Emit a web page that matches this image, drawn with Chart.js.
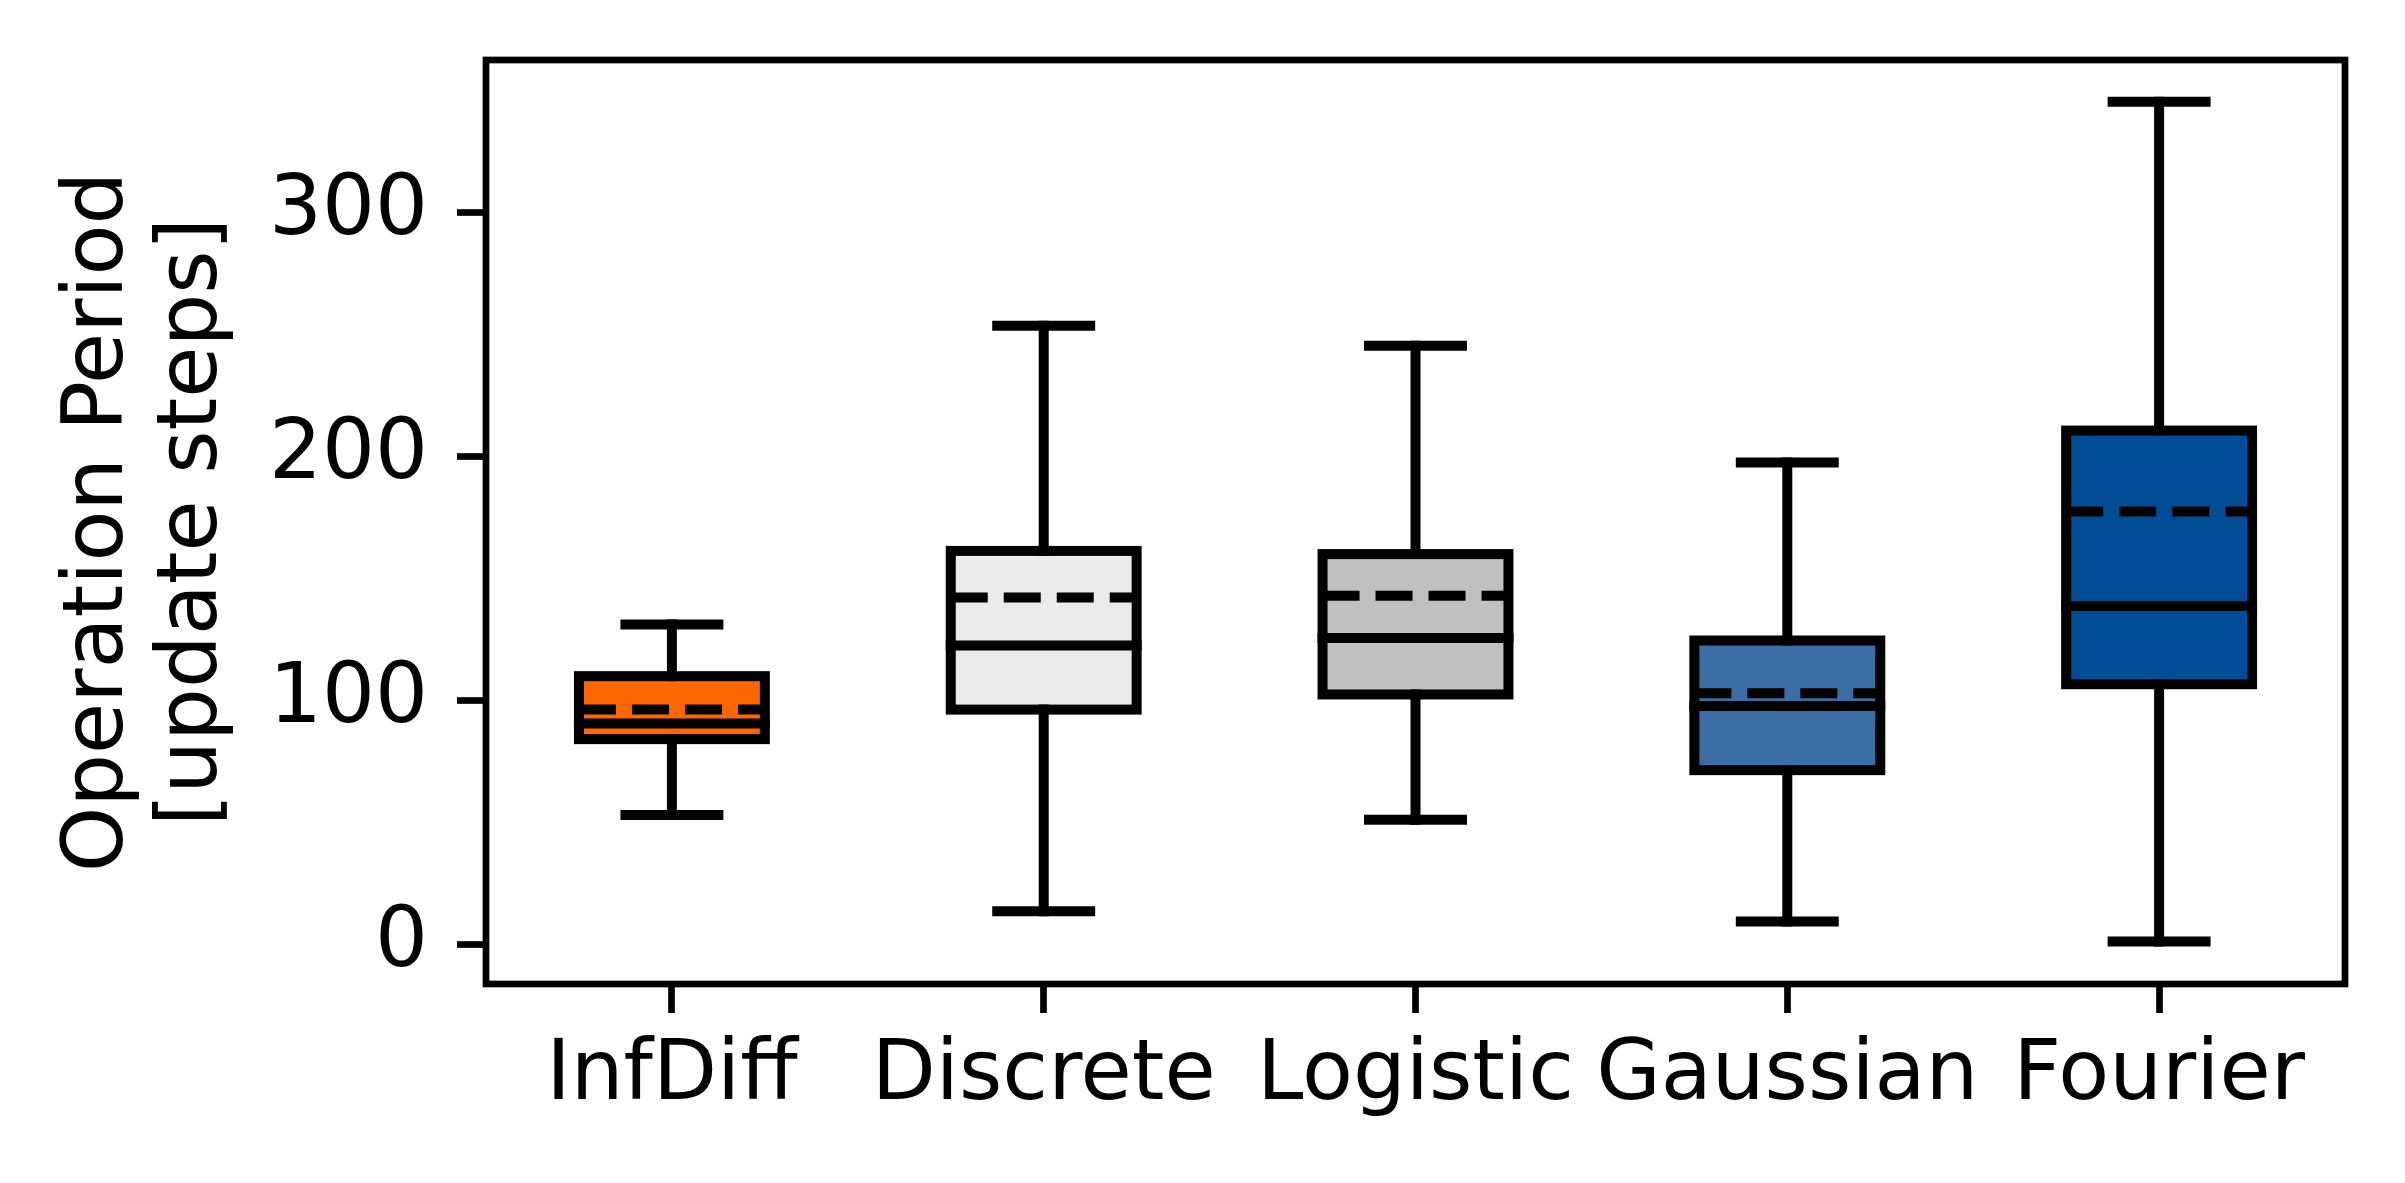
<!DOCTYPE html>
<html><head><meta charset="utf-8">
<script src="https://cdn.jsdelivr.net/npm/chart.js@4.4.1/dist/chart.umd.min.js"></script>
<style>html,body{margin:0;padding:0;background:#fff;} #wrap{width:2405px;height:1183px;position:relative;}</style>
</head><body><div id="wrap"><canvas id="c"></canvas></div>
<script>
// ---- data ----
const categories = ['InfDiff', 'Discrete', 'Logistic', 'Gaussian', 'Fourier'];
const whiskerLow = [53.0, 13.6, 51.1, 9.4, 1.2];
const q1 = [84.1, 96.2, 102.4, 71.4, 106.6];
const median = [90.5, 122.5, 125.5, 97.7, 138.6];
const mean = [96.2, 142.1, 142.8, 102.9, 177.3];
const q3 = [109.9, 161.2, 159.9, 124.5, 210.5];
const whiskerHigh = [131.1, 253.4, 245.2, 197.4, 345.2];
const yTicks = [0, 100, 200, 300];
const yTitle = ['Operation Period', '[update steps]'];

// ---- styles ----
const boxColors = ['#FF6600', '#EBEBEB', '#C0C0C0', '#3B6EA5', '#004C97'];
const LW = 10, SPINE = 6.7, FONT = 83.3;

Chart.defaults.font.family = "'DejaVu Sans', sans-serif";
Chart.defaults.font.size = FONT;
Chart.defaults.color = '#000';

function seg(ctx, x1, y1, x2, y2) { ctx.beginPath(); ctx.moveTo(x1, y1); ctx.lineTo(x2, y2); ctx.stroke(); }

const boxPlot = {
  id: 'boxPlot',
  afterDatasetsDraw(chart) {
    const ctx = chart.ctx, y = chart.scales.y, meta = chart.getDatasetMeta(0);
    ctx.save();
    ctx.strokeStyle = '#000';
    ctx.lineWidth = LW;
    meta.data.forEach((bar, i) => {
      const cx = bar.x, hw = bar.width / 2, cw = bar.width / 4;
      const yq1 = y.getPixelForValue(q1[i]), yq3 = y.getPixelForValue(q3[i]);
      const ylo = y.getPixelForValue(whiskerLow[i]), yhi = y.getPixelForValue(whiskerHigh[i]);
      // box outline
      ctx.setLineDash([]); ctx.lineJoin = 'miter'; ctx.lineCap = 'butt';
      ctx.strokeRect(cx - hw, yq3, 2 * hw, yq1 - yq3);
      // whiskers and caps
      ctx.lineCap = 'square';
      seg(ctx, cx, yq1, cx, ylo);
      seg(ctx, cx, yq3, cx, yhi);
      seg(ctx, cx - cw, ylo, cx + cw, ylo);
      seg(ctx, cx - cw, yhi, cx + cw, yhi);
      // median
      const ym = y.getPixelForValue(median[i]);
      seg(ctx, cx - hw, ym, cx + hw, ym);
      // mean (dashed)
      ctx.lineCap = 'butt';
      ctx.setLineDash([3.7 * LW, 1.6 * LW]);
      ctx.lineDashOffset = 0;
      const ya = y.getPixelForValue(mean[i]);
      seg(ctx, cx - hw, ya, cx + hw, ya);
    });
    ctx.restore();
  },
  afterDraw(chart) {
    const {ctx, chartArea: a} = chart;
    ctx.save();
    ctx.strokeStyle = '#000';
    ctx.lineWidth = SPINE;
    ctx.lineJoin = 'miter';
    ctx.strokeRect(a.left, a.top, a.right - a.left, a.bottom - a.top);
    ctx.restore();
  }
};

new Chart(document.getElementById('c'), {
  type: 'bar',
  data: {
    labels: categories,
    datasets: [{
      data: categories.map((_, i) => [q1[i], q3[i]]),
      backgroundColor: boxColors,
      borderWidth: 0,
      barPercentage: 0.5,
      categoryPercentage: 1.0
    }]
  },
  options: {
    responsive: true,
    maintainAspectRatio: false,
    animation: false,
    events: [],
    layout: { padding: { top: 60, right: 60, left: 0, bottom: 0 } },
    plugins: { legend: { display: false }, tooltip: { enabled: false } },
    scales: {
      x: {
        type: 'category',
        offset: true,
        border: { display: false },
        grid: { display: true, offset: false, drawOnChartArea: false, drawTicks: true,
                tickLength: 29, tickWidth: SPINE, tickColor: '#000' },
        ticks: { padding: 14, maxRotation: 0, autoSkip: false, font: { size: FONT } },
        afterFit: (s) => { s.height = 199; s.paddingLeft = 0; s.paddingRight = 0; }
      },
      y: {
        type: 'linear',
        min: -16.2,
        max: 362.3,
        border: { display: false },
        grid: { display: true, drawOnChartArea: false, drawTicks: true,
                tickLength: 29, tickWidth: SPINE, tickColor: '#000' },
        ticks: { padding: 29, font: { size: FONT }, callback: (v) => String(v) },
        afterBuildTicks: (s) => { s.ticks = yTicks.map(v => ({ value: v })); },
        title: { display: true, text: yTitle, color: '#000',
                 font: { size: FONT, lineHeight: 1.12 }, padding: { top: 54, bottom: 0 } },
        afterFit: (s) => { s.width = 486; s.paddingTop = 0; s.paddingBottom = 0; }
      }
    }
  },
  plugins: [boxPlot]
});
</script>
</body></html>
